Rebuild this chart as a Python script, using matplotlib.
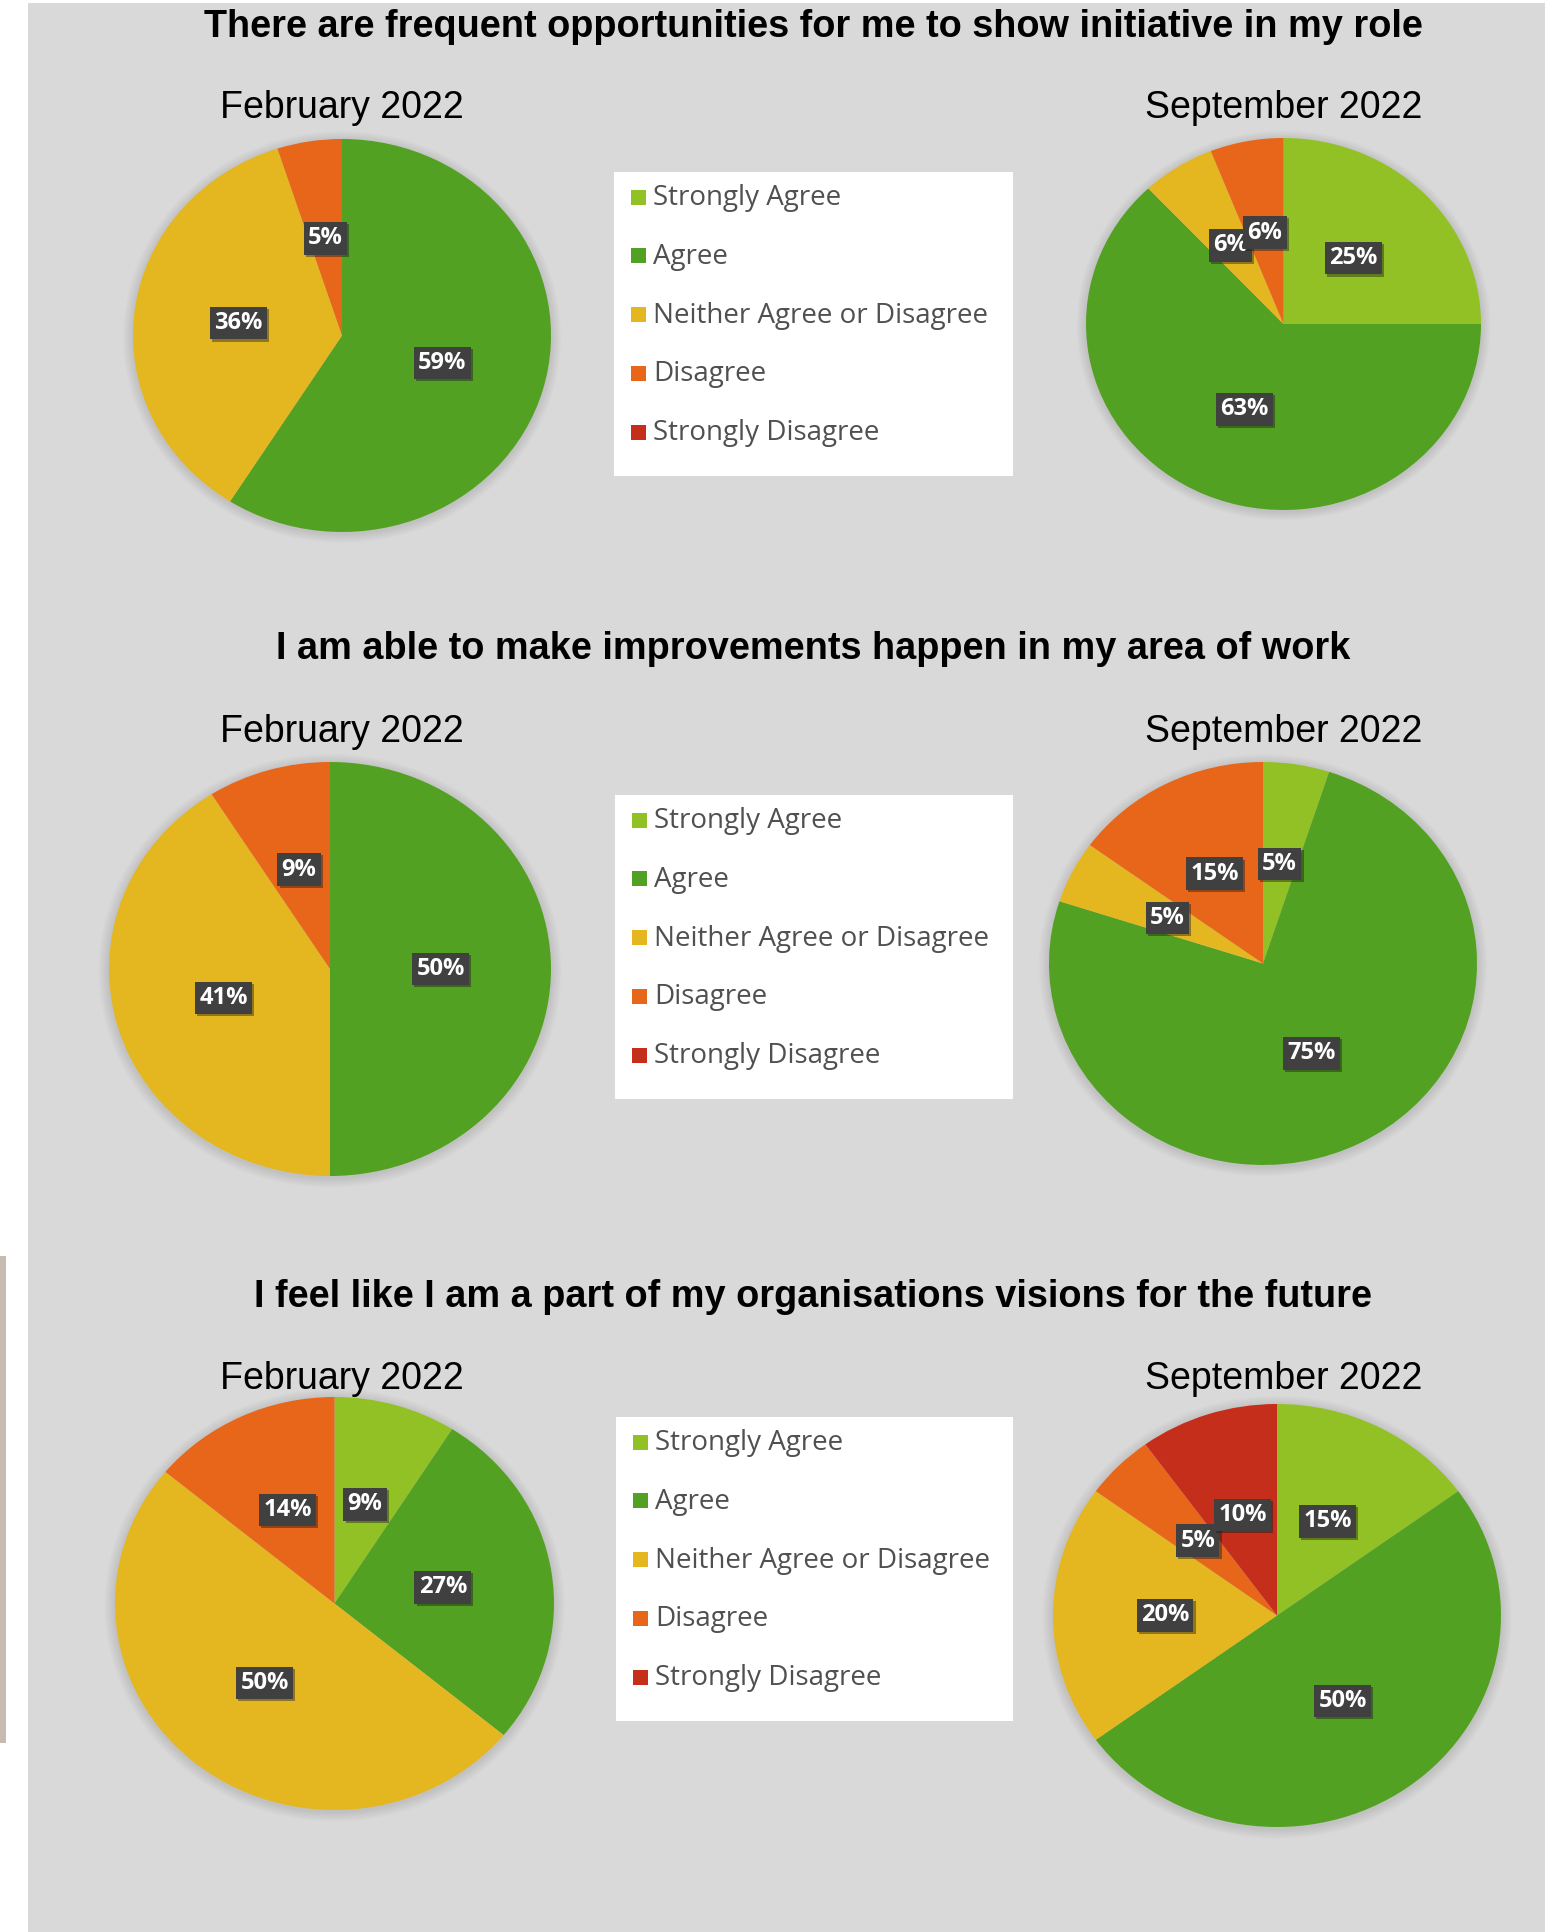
import matplotlib
matplotlib.use('Agg')
import matplotlib.pyplot as plt
import matplotlib.patheffects as pe
from matplotlib.patches import Rectangle, Ellipse

W, H = 1558, 1932

categories = ['Strongly Agree', 'Agree', 'Neither Agree or Disagree', 'Disagree', 'Strongly Disagree']
colors = ['#92C126', '#53A122', '#E4B720', '#E7661A', '#C42E1A']

questions = ['There are frequent opportunities for me to show initiative in my role',
             'I am able to make improvements happen in my area of work',
             'I feel like I am a part of my organisations visions for the future']
periods = ['February 2022', 'September 2022']

# percentages per category: SA, A, N, D, SD
initiative_feb = [0, 59, 36, 5, 0]
initiative_sep = [25, 63, 6, 6, 0]
improve_feb = [0, 50, 41, 9, 0]
improve_sep = [5, 75, 5, 15, 0]
vision_feb = [9, 27, 50, 14, 0]
vision_sep = [15, 50, 20, 5, 10]

survey = [[initiative_feb, initiative_sep],
          [improve_feb, improve_sep],
          [vision_feb, vision_sep]]

# layout in pixels (x, y from top)
pie_geom = [[(342, 335.5, 209, 196.5), (1283.5, 324, 197.5, 186)],
            [(330, 969, 221, 207), (1263, 963.5, 214, 201.5)],
            [(334.5, 1603.5, 219.5, 206.5), (1277, 1615.5, 224, 211.5)]]
title_y = [37, 659, 1307]
sub_y = [118, 742, 1389]
sub_x = [342, 1284]
legend_box = [(614, 172, 399, 304), (615, 795, 398, 304), (616, 1417, 397, 304)]

fig = plt.figure(figsize=(W / 100, H / 100), dpi=100)
fig.patch.set_facecolor('white')


def px_axes(x0, y0, w, h):
    return fig.add_axes([x0 / W, 1 - (y0 + h) / H, w / W, h / H])


def fig_rect(x0, y0, w, h, color):
    fig.patches.append(Rectangle((x0 / W, 1 - (y0 + h) / H), w / W, h / H,
                                 transform=fig.transFigure, facecolor=color,
                                 edgecolor='none', zorder=-5))


# grey panel and the scrap of photo at the left edge
fig_rect(28, 3, 1517, 1929, '#D9D9D9')
fig_rect(0, 1256, 6, 487, '#C6BBAE')


def draw_pie(vals, cx, cy, rx, ry):
    ax = px_axes(cx - rx, cy - ry, 2 * rx, 2 * ry)
    keep = [i for i, v in enumerate(vals) if v > 0]
    v = [vals[i] for i in keep]
    c = [colors[i] for i in keep]
    # soft shadow round the pie
    for k in range(8):
        s = 1 + 0.006 * (k + 1)
        ax.add_patch(Ellipse((0.0, -0.008), 2 * s, 2 * s, facecolor='black', alpha=0.012,
                             lw=0, clip_on=False, zorder=0))
    wedges, texts, autotexts = ax.pie(v, colors=c, startangle=90, counterclock=False,
                                      radius=1, autopct=lambda p: '%.0f%%' % p,
                                      pctdistance=0.5, wedgeprops=dict(linewidth=0))
    ax.set_xlim(-1, 1)
    ax.set_ylim(-1, 1)
    ax.set_aspect('auto')
    ax.axis('off')
    for t in autotexts:
        t.set_color('white')
        t.set_fontsize(17)
        t.set_fontweight('bold')
        t.set_family('Open Sans')
        t.set_bbox(dict(boxstyle='square,pad=0.18', facecolor='#404040', edgecolor='none'))
        t.get_bbox_patch().set_path_effects([pe.SimplePatchShadow(offset=(1.5, -1.5), alpha=0.4),
                                             pe.Normal()])
    return ax


def draw_legend(x0, y0, w, h):
    ax = px_axes(x0, y0, w, h)
    ax.set_xlim(0, w)
    ax.set_ylim(h, 0)
    ax.set_facecolor('white')
    ax.set_xticks([])
    ax.set_yticks([])
    for s in ax.spines.values():
        s.set_visible(False)
    for i, (lab, col) in enumerate(zip(categories, colors)):
        yc = 25 + i * 58.8
        ax.add_patch(Rectangle((17, yc - 7.5), 15, 15, facecolor=col, edgecolor='none'))
        ax.text(39, yc + 1, lab, va='center', ha='left', fontsize=20, color='#505050',
                family='Open Sans')


for r in range(3):
    fig.text(813 / W, 1 - title_y[r] / H, questions[r], ha='center', va='baseline',
             fontsize=27.3, fontweight='bold', family='Liberation Sans', color='black')
    for c in range(2):
        fig.text(sub_x[c] / W, 1 - sub_y[r] / H, periods[c], ha='center', va='baseline',
                 fontsize=27, family='Liberation Sans', color='black')
        draw_pie(survey[r][c], *pie_geom[r][c])
    draw_legend(*legend_box[r])

fig.savefig('out.png', dpi=100, facecolor=fig.get_facecolor())
